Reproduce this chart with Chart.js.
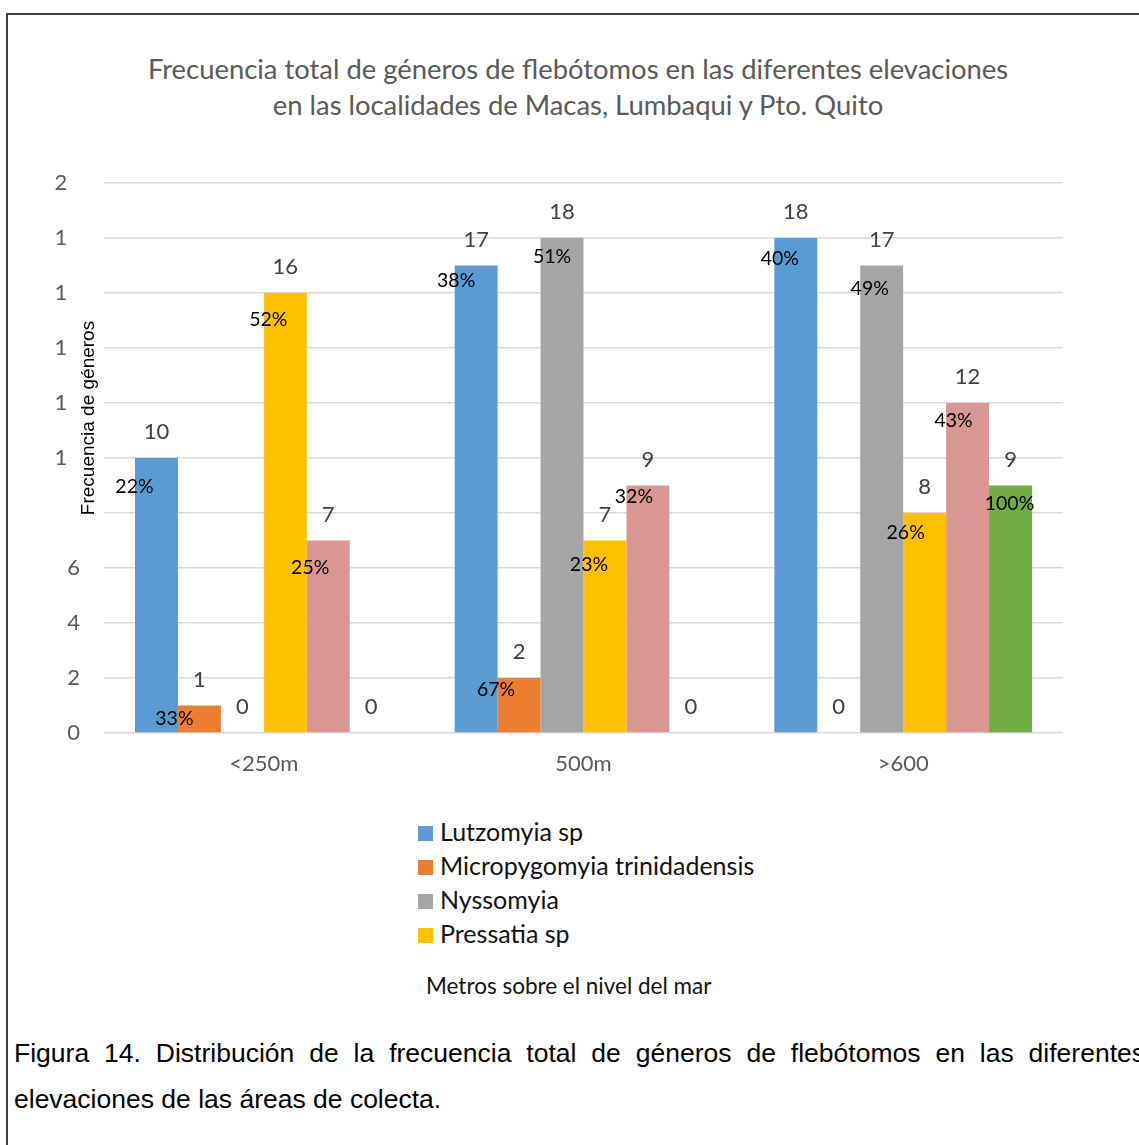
<!DOCTYPE html>
<html>
<head>
<meta charset="utf-8">
<script src="https://cdn.jsdelivr.net/npm/chart.js@4.4.1/dist/chart.umd.min.js"></script>
<style>
    html, body { margin:0; padding:0; background:#fff; overflow:hidden; width:1139px; height:1145px; }
    #frame { position:absolute; left:6px; top:13px; width:1200px; height:1200px; border-top:2px solid #3f3f3f; border-left:2px solid #3f3f3f; }
    #c { position:absolute; left:0; top:0; }
    #title { position:absolute; left:0; top:51px; width:1156px; text-align:center; font-family:Lato, sans-serif; font-size:27.4px; line-height:36px; color:#595959; white-space:nowrap; }
    #legend { position:absolute; left:418px; top:814px; font-family:Lato, sans-serif; font-size:25px; color:#111; }
    #legend div { height:34px; line-height:34px; white-space:nowrap; }
    #legend span.sw { display:inline-block; width:15px; height:15px; margin-right:7px; vertical-align:0px; }
    #xTitle { position:absolute; left:426px; top:972px; font-family:Lato, sans-serif; font-size:22.5px; line-height:28px; color:#111; white-space:nowrap; }
    .cap { position:absolute; left:14px; font-family:"Liberation Sans", Arial, sans-serif; font-size:26.5px; color:#000; line-height:46px; }
    #cap1 { top:1030px; width:1131px; text-align:justify; text-align-last:justify; }
    #cap2 { top:1076px; white-space:nowrap; }
</style>
</head>
<body>
<div id="frame"></div>
<div id="title">Frecuencia total de géneros de flebótomos en las diferentes elevaciones<br>en las localidades de Macas, Lumbaqui y Pto. Quito</div>
<canvas id="c" width="1139" height="800"></canvas>
<div id="legend"></div>
<div id="xTitle">Metros sobre el nivel del mar</div>
<div class="cap" id="cap1">Figura 14. Distribución de la frecuencia total de géneros de flebótomos en las diferentes</div>
<div class="cap" id="cap2">elevaciones de las áreas de colecta.</div>
<script>
const elevaciones = ["<250m", "500m", ">600"];

const lutzomyia = [10, 17, 18];
const micropygomyia = [1, 2, 0];
const nyssomyia = [0, 18, 17];
const pressatia = [16, 7, 8];
const serie5 = [7, 9, 12];
const serie6 = [0, 0, 9];

// percentages printed inside the bars (null = no label)
const pctLutzomyia = [22, 38, 40];
const pctMicropygomyia = [33, 67, null];
const pctNyssomyia = [null, 51, 49];
const pctPressatia = [52, 23, 26];
const pctSerie5 = [25, 32, 43];
const pctSerie6 = [null, null, 100];

// the y tick labels as they appear (second digit lost)
const yTickLabels = ["0", "2", "4", "6", "", "1\u2007", "1\u2007", "1\u2007", "1\u2007", "1\u2007", "2\u2007"];

const seriesNames = ["Lutzomyia sp", "Micropygomyia trinidadensis", "Nyssomyia", "Pressatia sp", "", ""];
const colors = ["#5B9BD5", "#ED7D31", "#A5A5A5", "#FFC000", "#DA9694", "#70AD47"];
const legendCount = 4;

const values = [lutzomyia, micropygomyia, nyssomyia, pressatia, serie5, serie6];
const percents = [pctLutzomyia, pctMicropygomyia, pctNyssomyia, pctPressatia, pctSerie5, pctSerie6];

// hand-dragged percent labels: nudge [dx, dy] from bar centre / bar top
const pctNudge = [
    [[-22, 29], [-20, 15], [-16, 21]],
    [[-25, 13], [-23, 12], [0, 0]],
    [[0, 0], [-10, 19], [-12, 23]],
    [[-17, 27], [-16, 24], [-19, 20]],
    [[-18, 27], [-14, 11], [-14, 18]],
    [[0, 0], [0, 0], [-1, 18]]
];

const barLabels = {
    id: "barLabels",
    afterDatasetsDraw(chart) {
        const ctx = chart.ctx;
        ctx.save();
        ctx.textAlign = "center";
        ctx.textBaseline = "middle";
        chart.data.datasets.forEach((ds, i) => {
            chart.getDatasetMeta(i).data.forEach((bar, j) => {
                ctx.font = "22px Lato";
                ctx.fillStyle = "#404040";
                ctx.fillText(String(ds.data[j]), bar.x, bar.y - 26);
                const p = percents[i][j];
                if (p !== null) {
                    const n = pctNudge[i][j];
                    ctx.font = "19.5px Lato";
                    ctx.fillStyle = "#000";
                    ctx.fillText(p + "%", bar.x + n[0], bar.y + n[1]);
                }
            });
        });
        ctx.restore();

        // y axis title, drawn next to the ticks like in the original
        const a = chart.chartArea;
        ctx.save();
        ctx.translate(a.left - 15, a.top + 235);
        ctx.rotate(-Math.PI / 2);
        ctx.font = "19px 'Liberation Sans'";
        ctx.fillStyle = "#000";
        ctx.textAlign = "center";
        ctx.textBaseline = "middle";
        ctx.fillText("Frecuencia de géneros", 0, 0);
        ctx.restore();
    }
};

new Chart(document.getElementById("c").getContext("2d"), {
    type: "bar",
    data: {
        labels: elevaciones,
        datasets: values.map((v, i) => ({
            label: seriesNames[i],
            data: v,
            backgroundColor: colors[i],
            borderWidth: 0,
            barPercentage: 1,
            categoryPercentage: 0.806
        }))
    },
    options: {
        responsive: false,
        animation: false,
        layout: { padding: { left: 0, right: 76, top: 183, bottom: 0 } },
        plugins: {
            legend: { display: false },
            tooltip: { enabled: false }
        },
        scales: {
            x: {
                grid: { display: false, drawTicks: false },
                border: { display: false },
                ticks: { color: "#595959", font: { family: "Lato", size: 22 }, padding: 18 },
                afterFit(scale) { scale.height = 67; }
            },
            y: {
                min: 0,
                max: 20,
                grid: { color: "#D9D9D9", lineWidth: 1.5, drawTicks: false },
                border: { display: false },
                ticks: {
                    stepSize: 2,
                    color: "#595959",
                    font: { family: "Lato", size: 22 },
                    padding: 24,
                    callback: (v, idx) => yTickLabels[idx]
                },
                afterFit(scale) { scale.width = 104; }
            }
        }
    },
    plugins: [barLabels]
});

const legendDiv = document.getElementById("legend");
for (let i = 0; i < legendCount; i++) {
    const row = document.createElement("div");
    row.innerHTML = `<span class="sw" style="background:${colors[i]}"></span>${seriesNames[i]}`;
    legendDiv.appendChild(row);
}
</script>
</body>
</html>
